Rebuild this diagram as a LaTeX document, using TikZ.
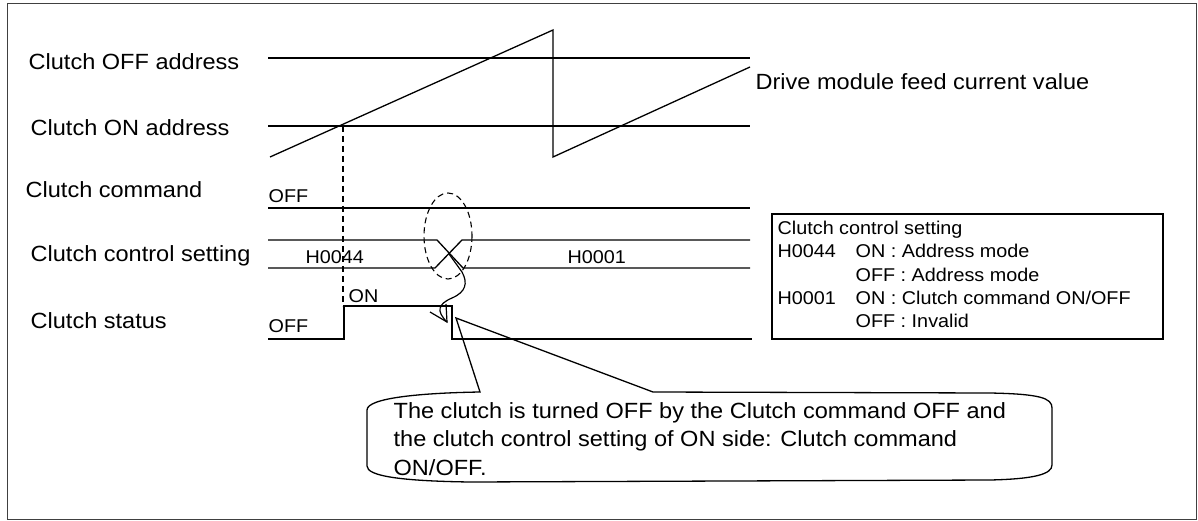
\documentclass[tikz,border=0pt]{standalone}
\usepackage{fontspec}
\setmainfont{Liberation Sans}[FakeStretch=1.07]
\usetikzlibrary{arrows.meta}
\begin{document}
\begin{tikzpicture}[x=1pt,y=-1pt,line width=1.3pt,
  lbl/.style={anchor=base west,inner sep=0pt,font=\fontsize{22}{26}\selectfont},
  sml/.style={anchor=base west,inner sep=0pt,font=\fontsize{18.5}{23}\selectfont},
  sig/.style={line width=1.3pt},
  guide/.style={line width=1.1pt,dash pattern=on 6pt off 4pt}]
\useasboundingbox (0,0) rectangle (1198,521);
\draw[line width=1pt,draw=black!75] (7,4) rectangle (1196,519);

% labels
\node[lbl] (loff) at (28,70) {Clutch OFF address};
\node[lbl] (lon) at (30,136) {Clutch ON address};
\node[lbl] (lcmd) at (25,198) {Clutch command};
\node[lbl] (lctl) at (30,261) {Clutch control setting};
\node[lbl] (lsts) at (30,328) {Clutch status};
\node[lbl] (ldrv) at (755,90) {Drive module feed current value};

% address lines
\draw[sig] (268,58) -- (750,58);
\draw[sig] (268,126) -- (750,126);
% sawtooth
\draw[sig] (270,157) -- (553,30) -- (553,157) -- (750,67);
% dashed guide
\coordinate (cross) at (343,126);
\coordinate (rise) at (343,306);
\draw[guide] (cross) -- (rise);

% clutch command
\node[sml] (cmdoff) at (268,203) {OFF};
\draw[sig] (268,208) -- (750,208);

% clutch control setting
\draw[sig] (268,240) -- (437,240) -- (463,268) -- (750,268);
\draw[sig] (268,268) -- (435,268) -- (462,240) -- (750,240);
\node[sml] (h44) at (305,263) {H0044};
\node[sml] (h01) at (567,263) {H0001};
\draw[guide] (448,236) ellipse [x radius=24,y radius=43];

% clutch status
\node[sml] (stoff) at (268,332) {OFF};
\node[sml] (ston) at (348,302) {ON};
\draw[sig] (268,339) -- (344,339) -- (344,306) -- (452,306) -- (452,339) -- (752,339);

% squiggle arrow
\coordinate (xc) at (449,254);
\coordinate (drop) at (447,322);
\draw[line width=1.2pt] (xc) -- (462,272)
  .. controls (468,283) and (466,292) .. (452,298)
  .. controls (438,304) and (436,311) .. (drop);
\draw[line width=1.2pt] (430,312) -- (drop) -- (446,304);

% legend box
\draw[line width=1.3pt] (772,214) rectangle (1163,339);
\node[sml] (g1) at (777,235) {Clutch control setting};
\node[sml] (g2) at (777,258) {H0044};
\node[sml] (g3) at (855,258) {ON : Address mode};
\node[sml] (g4) at (855,281) {OFF : Address mode};
\node[sml] (g5) at (777,304) {H0001};
\node[sml] (g6) at (855,304) {ON : Clutch command ON/OFF};
\node[sml] (g7) at (855,327) {OFF : Invalid};

% callout
\draw[line width=1.3pt] (367,410)
  .. controls (367,398) and (420,393) .. (480,392)
  -- (456,318) -- (653,392) -- (990,393)
  .. controls (1040,394) and (1052,398) .. (1052,408)
  -- (1052,465)
  .. controls (1052,474) and (1035,479) .. (990,480)
  -- (470,482)
  .. controls (400,481) and (367,476) .. (367,466) -- cycle;
\node[anchor=base west,inner sep=0pt,align=left,
  font=\fontsize{22}{28.5}\selectfont] (note) at (393,475)
  {The clutch is turned OFF by the Clutch command OFF and\\
   the clutch control setting of ON side: Clutch command\\
   ON/OFF.};
\end{tikzpicture}
\end{document}
